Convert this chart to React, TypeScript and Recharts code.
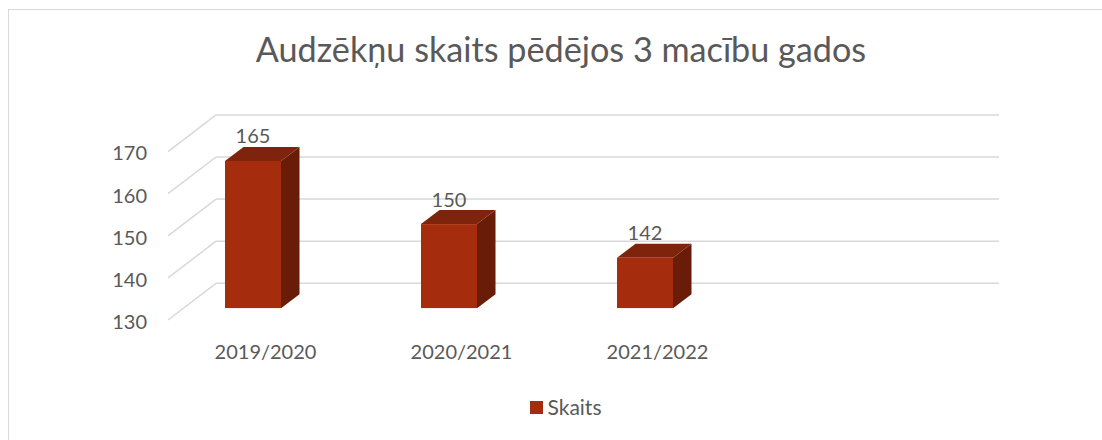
import React from 'react';
import { BarChart, Bar, XAxis, YAxis, CartesianGrid, Legend, LabelList } from 'recharts';

const categories = ['2019/2020', '2020/2021', '2021/2022', ''];
const skaits: (number | null)[] = [165, 150, 142, null];
const yTicks = [130, 140, 150, 160, 170];
const title = 'Audzēkņu skaits pēdējos 3 macību gados';
const seriesName = 'Skaits';

const data = categories.map((c, i) => ({ name: c, Skaits: skaits[i] }));

const FONT = 'Lato, "Open Sans", sans-serif';
const TEXT = '#595959';
const GRID = '#D9D9D9';
const FRONT = '#A52D0D';
const TOP = '#7E240C';
const SIDE = '#691C08';
const DX = 18.5;
const DY = 14;

const Bar3D = (props: any) => {
  const { x, y, width, height } = props;
  if (height == null || !isFinite(height) || height <= 0) return null;
  const top = `${x},${y} ${x + DX},${y - DY} ${x + width + DX},${y - DY} ${x + width},${y}`;
  const side = `${x + width},${y} ${x + width + DX},${y - DY} ${x + width + DX},${y + height - DY} ${x + width},${y + height}`;
  return (
    <g>
      <polygon points={side} fill={SIDE} />
      <polygon points={top} fill={TOP} />
      <rect x={x} y={y} width={width} height={height} fill={FRONT} />
    </g>
  );
};

const gridLine = (props: any) => {
  const { x1, x2, y1, key } = props;
  const backY = y1 - 25;
  const backL = x1 + 61;
  const backR = x2 + 60;
  const frontX = x1 + 13;
  const frontY = y1 + 11.7;
  return (
    <g key={key}>
      <line x1={backL} y1={backY} x2={backR} y2={backY} stroke={GRID} strokeWidth={1.5} />
      <line x1={backL} y1={backY} x2={frontX} y2={frontY} stroke={GRID} strokeWidth={1.5} />
    </g>
  );
};

const YTick = (props: any) => {
  const { x, y, payload } = props;
  return (
    <text x={x} y={y + 12.5} textAnchor="end" dominantBaseline="central" fill={TEXT} fontSize={20} fontFamily={FONT}>
      {payload.value}
    </text>
  );
};

const XTick = (props: any) => {
  const { x, y, payload } = props;
  if (!payload.value) return null;
  return (
    <text x={x + 12.5} y={y + 43} textAnchor="middle" dominantBaseline="central" fill={TEXT} fontSize={20} fontFamily={FONT}>
      {payload.value}
    </text>
  );
};

const BarLabel = (props: any) => {
  const { x, y, width, value } = props;
  if (value == null) return null;
  return (
    <text x={x + width / 2} y={y - 25.5} textAnchor="middle" dominantBaseline="central" fill={TEXT} fontSize={20} fontFamily={FONT}>
      {value}
    </text>
  );
};

const LegendContent = (props: any) => {
  const { payload } = props;
  return (
    <div style={{ display: 'flex', justifyContent: 'center', alignItems: 'center', fontFamily: FONT, fontSize: 21, color: TEXT, lineHeight: '24px' }}>
      {(payload || []).map((p: any) => (
        <div key={p.value} style={{ display: 'flex', alignItems: 'center' }}>
          <div style={{ width: 13, height: 13, background: FRONT, marginRight: 5 }} />
          <span>{p.value}</span>
        </div>
      ))}
    </div>
  );
};

export default function App() {
  return (
    <div style={{ position: 'absolute', left: 0, top: 0, width: 1102, height: 440, background: '#fff', overflow: 'hidden' }}>
      <svg width={1102} height={440} style={{ position: 'absolute', left: 0, top: 0 }}>
        <rect x={8.5} y={9.5} width={1200} height={500} fill="#fff" stroke="#D9D9D9" strokeWidth={1} />
        <text x={561} y={61.7} textAnchor="middle" fill={TEXT} fontSize={34.2} fontFamily={FONT}>
          {title}
        </text>
      </svg>
      <div style={{ position: 'absolute', left: 0, top: 0 }}>
        <BarChart width={1102} height={440} data={data} margin={{ top: 139.9, right: 163, bottom: 101.7, left: 0 }}>
          <CartesianGrid vertical={false} horizontal={gridLine} />
          <XAxis dataKey="name" height={30} axisLine={false} tickLine={false} tickSize={0} tickMargin={0} tick={<XTick />} interval={0} />
          <YAxis
            domain={[130, 170]}
            ticks={yTicks}
            width={155}
            axisLine={false}
            tickLine={false}
            tickSize={0}
            tickMargin={8}
            tick={<YTick />}
            allowDataOverflow
          />
          <Legend
            layout="horizontal"
            verticalAlign="middle"
            align="center"
            wrapperStyle={{ top: 395, left: 14.5, width: 1102 }}
            content={<LegendContent />}
          />
          <Bar dataKey="Skaits" name={seriesName} barSize={56} shape={<Bar3D />} isAnimationActive={false} fill={FRONT}>
            <LabelList dataKey="Skaits" content={<BarLabel />} />
          </Bar>
        </BarChart>
      </div>
    </div>
  );
}
